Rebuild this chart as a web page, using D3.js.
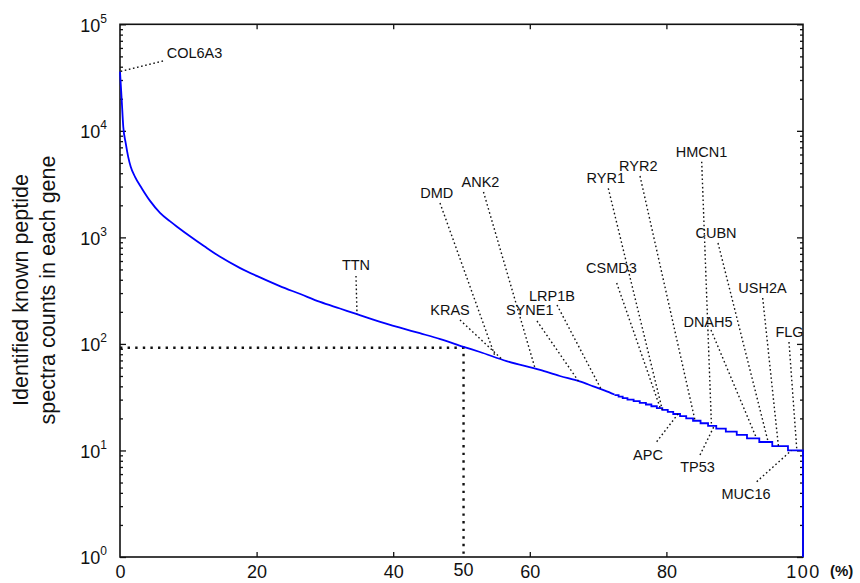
<!DOCTYPE html>
<html>
<head>
<meta charset="utf-8">
<script src="https://cdn.jsdelivr.net/npm/d3@7"></script>
<style>
  body { margin: 0; background: #fff; }
  text { font-family: Arial, "Liberation Sans", sans-serif; fill: #111; }
</style>
</head>
<body>
<div id="chart"></div>
<script>
// Smooth head of the ranked curve: % of genes vs spectra count
var headPct   = [0, 0.25, 0.48, 0.83, 1.2, 1.57, 2.2, 3.2, 4.4, 5.86, 7.3, 8.5, 10.2, 12.4, 14.6, 17.6, 20.5, 23.4, 26.4, 29.3, 32.2, 34.7, 38.1, 41.0, 43.9, 46.9, 50.3, 52.7, 56.6, 61.5, 64.4, 67.3, 69.3, 71.0, 72.4];
var headCount = [36000, 19500, 10900, 7700, 5700, 4600, 3700, 2880, 2200, 1700, 1420, 1240, 1030, 820, 660, 515, 421, 349, 294, 248, 215, 190, 161, 142, 126, 111, 94, 84, 69, 57, 50, 44.5, 40, 36.5, 33.5];

// Stepped tail: integer counts and the % where each level begins
var stepCount = [33, 32, 31, 30, 29, 28, 27, 26, 25, 24, 23, 22, 21, 20, 19, 18, 17, 16, 15, 14, 13, 12, 11, 10];
var stepStart = [72.4, 73.0, 73.6, 74.3, 75.2, 76.1, 77.0, 77.8, 78.6, 79.4, 80.2, 81.0, 82.0, 82.9, 83.9, 85.0, 86.1, 87.3, 88.7, 90.3, 91.8, 93.6, 95.5, 97.8];
var endPct = 100;
var endCount = 1;

// Median marker
var medianPct = 50.3;
var medianCount = 92;

// Annotated genes
var genes     = ["COL6A3", "TTN", "KRAS", "DMD", "ANK2", "SYNE1", "LRP1B", "CSMD3", "RYR1", "RYR2", "APC", "HMCN1", "TP53", "CUBN", "DNAH5", "USH2A", "FLG", "MUC16"];
var genePct   = [0, 34.7, 55.9, 54.9, 60.8, 67.1, 70.5, 79.1, 79.4, 84.2, 81.7, 86.6, 87.0, 94.9, 93.2, 96.4, 99.1, 98.3];
var geneCount = [36000, 190, 72, 77, 58, 45, 37, 25, 24, 19, 22, 17, 17, 12, 13, 11, 10, 10];

// Tick values
var xTicks = [0, 20, 40, 60, 80, 100];
var yDecades = [1, 10, 100, 1000, 10000, 100000];
var yExponents = ["0", "1", "2", "3", "4", "5"];

// Label layout (pixels): text centre/baseline and where the leader starts
var labelPos = {
  COL6A3: [194.5, 58, 163, 61],
  TTN:    [356, 270, 356, 276],
  KRAS:   [450, 315, 460, 320],
  DMD:    [436.7, 198, 440, 203],
  ANK2:   [480.5, 187, 483.5, 192],
  SYNE1:  [529.7, 315, 537, 321],
  LRP1B:  [552, 300.5, 557, 305],
  CSMD3:  [611.5, 272.5, 616.7, 283],
  RYR1:   [605.8, 182.7, 608.3, 188.3],
  RYR2:   [638.3, 170.7, 640, 176],
  APC:    [648, 460, 656.7, 441.7],
  HMCN1:  [701.5, 157, 701.7, 161.7],
  TP53:   [697.5, 472, 700, 455],
  CUBN:   [716, 238, 718, 243],
  DNAH5:  [708, 327, 711, 330],
  USH2A:  [762.5, 293, 762.7, 298],
  FLG:    [789.5, 337, 789, 342],
  MUC16:  [746, 499, 756.7, 481.7]
};

var svgWidth = 860, svgHeight = 583;
var margin = { top: 24.3, right: 57, bottom: 26, left: 120 };
var chartWidth = svgWidth - margin.left - margin.right;
var chartHeight = svgHeight - margin.top - margin.bottom;

var svg = d3.select("#chart").append("svg")
  .attr("width", svgWidth)
  .attr("height", svgHeight);

var g = svg.append("g")
  .attr("transform", `translate(${margin.left}, ${margin.top})`);

var x = d3.scaleLinear().domain([0, 100]).range([0, chartWidth]);
var y = d3.scaleLog().domain([1, 100000]).range([chartHeight, 0]);

// minor log ticks
var yMinor = [];
yDecades.slice(0, -1).forEach(function(d) {
  for (var k = 2; k <= 9; k++) yMinor.push(d * k);
});

function styleAxis(sel) {
  sel.select(".domain").remove();
  sel.selectAll("line").attr("stroke", "#111").attr("stroke-width", 1.3);
}

// x axis bottom
var xAxis = g.append("g")
  .attr("transform", `translate(0, ${chartHeight})`)
  .call(d3.axisBottom(x).tickValues(xTicks).tickSizeInner(-5).tickSizeOuter(0).tickPadding(8));
styleAxis(xAxis);
xAxis.selectAll("text").attr("font-size", 18).attr("fill", "#111");
xAxis.selectAll(".tick").filter(function(d) { return d === 0 || d === 100; }).select("line").remove();
xAxis.selectAll(".tick").filter(function(d) { return d === 100; }).select("text").attr("letter-spacing", 1.5);

// x axis top (ticks only)
var xTop = g.append("g")
  .call(d3.axisTop(x).tickValues(xTicks.slice(1, -1)).tickSizeInner(-5).tickSizeOuter(0).tickFormat(""));
styleAxis(xTop);

// y axes: major + minor on both sides
[[d3.axisLeft, 0], [d3.axisRight, chartWidth]].forEach(function(a) {
  var major = g.append("g").attr("transform", `translate(${a[1]}, 0)`)
    .call(a[0](y).tickValues(yDecades).tickSizeInner(-6).tickSizeOuter(0).tickFormat(""));
  styleAxis(major);
  var minor = g.append("g").attr("transform", `translate(${a[1]}, 0)`)
    .call(a[0](y).tickValues(yMinor).tickSizeInner(-3).tickSizeOuter(0).tickFormat(""));
  styleAxis(minor);
});

// y tick labels as 10^n
var yLab = g.selectAll(".ylab").data(yDecades).enter().append("text")
  .attr("class", "ylab")
  .attr("x", -13)
  .attr("y", d => y(d) + 7.5)
  .attr("text-anchor", "end")
  .attr("font-size", 18);
yLab.append("tspan").text("10");
yLab.append("tspan").attr("dy", -9).attr("font-size", 12).text((d, i) => yExponents[i]);

// frame
g.append("rect")
  .attr("width", chartWidth)
  .attr("height", chartHeight)
  .attr("fill", "none")
  .attr("stroke", "#111")
  .attr("stroke-width", 1.6);

// median dotted lines
g.append("path")
  .attr("d", d3.line()([[x(0), y(medianCount)], [x(medianPct), y(medianCount)], [x(medianPct), y(1)]]))
  .attr("fill", "none")
  .attr("stroke", "#111")
  .attr("stroke-width", 2.4)
  .attr("stroke-dasharray", "2.4,5.2");

g.append("text")
  .attr("x", x(medianPct))
  .attr("y", chartHeight + 19)
  .attr("text-anchor", "middle")
  .attr("font-size", 18)
  .text("50");

// curve
var headData = headPct.map((p, i) => [p, headCount[i]]);
var tailData = stepStart.map((p, i) => [p, stepCount[i]]);
tailData.push([endPct, stepCount[stepCount.length - 1]]);
tailData.push([endPct, endCount]);

g.append("path")
  .datum(headData)
  .attr("fill", "none")
  .attr("stroke", "#0000ff")
  .attr("stroke-width", 1.8)
  .attr("d", d3.line().x(d => x(d[0])).y(d => y(d[1])).curve(d3.curveMonotoneX));

g.append("path")
  .datum(tailData)
  .attr("fill", "none")
  .attr("stroke", "#0000ff")
  .attr("stroke-width", 1.8)
  .attr("d", d3.line().x(d => x(d[0])).y(d => y(d[1])).curve(d3.curveStepAfter));

// gene annotations
var ann = svg.append("g");
genes.forEach(function(name, i) {
  var pos = labelPos[name];
  ann.append("line")
    .attr("x1", pos[2]).attr("y1", pos[3])
    .attr("x2", margin.left + x(genePct[i])).attr("y2", margin.top + y(geneCount[i]))
    .attr("stroke", "#111")
    .attr("stroke-width", 1.4)
    .attr("stroke-dasharray", "1.6,2.6");
  ann.append("text")
    .attr("x", pos[0]).attr("y", pos[1])
    .attr("text-anchor", "middle")
    .attr("font-size", 14.5)
    .text(name);
});

// "(%)" unit
svg.append("text")
  .attr("x", 830)
  .attr("y", 576)
  .attr("font-size", 15)
  .attr("font-weight", "bold")
  .text("(%)");

// y axis title
var yTitle = ["Identified known peptide", "spectra counts in each gene"];
yTitle.forEach(function(t, i) {
  svg.append("text")
    .attr("transform", `translate(${27.5 + i * 27.5}, 290) rotate(-90)`)
    .attr("text-anchor", "middle")
    .attr("font-size", 21.5)
    .text(t);
});
</script>
</body>
</html>
